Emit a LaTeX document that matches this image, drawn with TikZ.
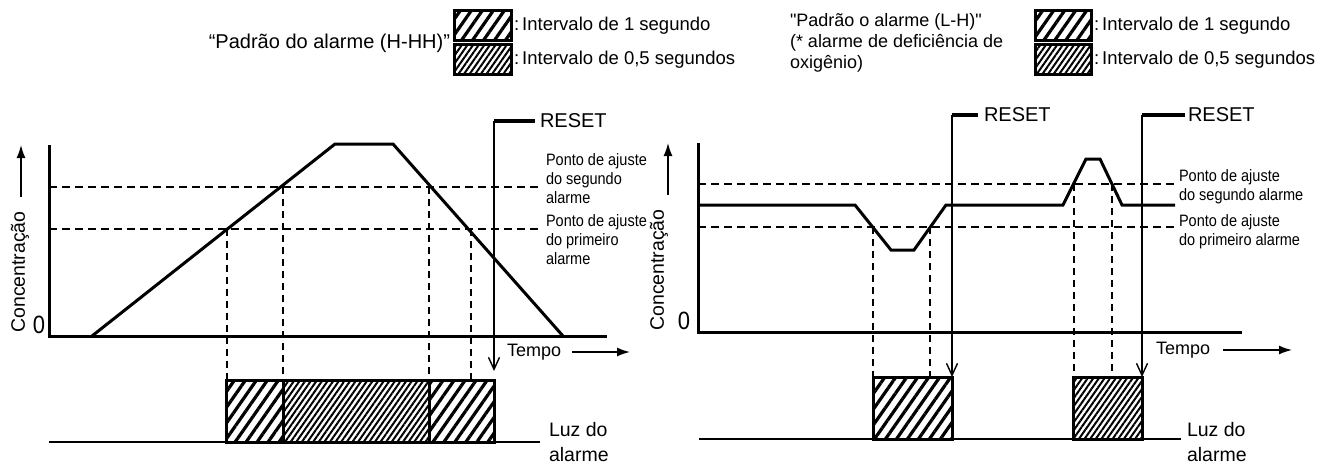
\documentclass[tikz,border=0pt]{standalone}
\usepackage{fontspec}
\setmainfont{Liberation Sans}
\newfontfamily\narrowsans{Liberation Sans}[FakeStretch=0.88]
\usetikzlibrary{patterns.meta,arrows.meta}
\begin{document}
\begin{tikzpicture}[x=1pt,y=-1pt,
  axisline/.style={line width=3pt},
  sigline/.style={line width=3pt, line join=miter},
  setdash/.style={line width=2pt, dash pattern=on 8pt off 5pt},
  vdash/.style={line width=1.4pt, dash pattern=on 7pt off 5pt},
  hatchone/.style={line width=3pt, pattern={Lines[angle=55,distance=9pt,line width=3.2pt]}},
  hatchhalf/.style={line width=3pt, pattern={Lines[angle=55,distance=4.6pt,line width=2pt]}},
  resetline/.style={line width=1.4pt, -{Straight Barb[length=12pt,width=11pt,line width=1.4pt]}},
  resetbar/.style={line width=3.5pt},
  lightline/.style={line width=2.5pt},
  labelarrow/.style={line width=1.5pt, -{Latex[length=13pt,width=9pt]}},
  txt/.style={inner sep=0pt, outer sep=0pt},
  titletxt/.style={txt, font=\fontsize{20}{23}\selectfont},
  legtxt/.style={txt, font=\fontsize{18.5}{21}\selectfont, anchor=west},
  righttitle/.style={txt, font=\fontsize{18}{21}\selectfont, align=left, anchor=west},
  resettxt/.style={txt, font=\fontsize{20}{22}\selectfont, anchor=west},
  pontotxt/.style={txt, font=\narrowsans\fontsize{16.5}{19}\selectfont, align=left, anchor=west},
  conctxt/.style={txt, font=\fontsize{19.5}{22}\selectfont, rotate=90},
  zerotxt/.style={txt, font=\narrowsans\fontsize{25}{26}\selectfont},
  tempotxt/.style={txt, font=\fontsize{18}{20}\selectfont, anchor=west},
  luztxt/.style={txt, font=\fontsize{19.5}{25}\selectfont, align=left, anchor=west}
]
\useasboundingbox (0,0) rectangle (1343,464);

% ---------------- legends ----------------
\node[titletxt, anchor=east] (ttlL) at (450,43) {“Padrão do alarme (H-HH)”};
\draw[hatchone]  (454,10) rectangle (511,40);
\draw[hatchhalf] (454,44) rectangle (511,74);
\node[legtxt] (legL1) at (514,26) {:\,Intervalo de 1 segundo};
\node[legtxt] (legL2) at (514,60) {:\,Intervalo de 0,5 segundos};

\node[righttitle] (ttlR) at (790,43) {\textquotedbl Padrão o alarme (L-H)\textquotedbl\\(* alarme de deficiência de\\oxigênio)};
\draw[hatchone]  (1035,10) rectangle (1091,40);
\draw[hatchhalf] (1035,44) rectangle (1091,74);
\node[legtxt] (legR1) at (1094,26) {:\,Intervalo de 1 segundo};
\node[legtxt] (legR2) at (1094,60) {:\,Intervalo de 0,5 segundos};

% ---------------- left chart ----------------
\coordinate (LaxTop) at (49,145);
\coordinate (Lorig) at (49,336);
\coordinate (LaxEnd) at (607,336);
\draw[axisline] (LaxTop) -- (Lorig) -- (LaxEnd);
\node[conctxt] (concL) at (20,272) {Concentração};
\coordinate (cLa) at (21,197);
\coordinate (cLb) at (21,145);
\draw[labelarrow] (cLa) -- (cLb);
\node[zerotxt] (zeroL) at (39,325) {0};

\draw[setdash] (49,187) -- (540,187);
\draw[setdash] (49,229) -- (540,229);
\draw[sigline] (92,336) -- (335,144) -- (393,144) -- (563,336);

\draw[vdash] (227,229) -- (227,380);
\draw[vdash] (283,187) -- (283,380);
\draw[vdash] (429,187) -- (429,380);
\draw[vdash] (471,229) -- (471,380);

\node[pontotxt] (p2L) at (546,179) {Ponto de ajuste\\do segundo\\alarme};
\node[pontotxt] (p1L) at (546,240) {Ponto de ajuste\\do primeiro\\alarme};

\coordinate (rLtop) at (494,121);
\coordinate (rLbar) at (535,121);
\coordinate (rLend) at (494,371);
\draw[resetline] (rLtop) -- (rLend);
\draw[resetbar] (rLtop) -- (rLbar);
\node[resettxt] (resetL) at (540,121) {RESET};

\node[tempotxt] (tempoL) at (507,352) {Tempo};
\coordinate (tLa) at (572,352);
\coordinate (tLb) at (630,352);
\draw[labelarrow] (tLa) -- (tLb);

\draw[lightline] (49,442) -- (540,442);
\draw[hatchone]  (226,380) rectangle (283,442);
\draw[hatchhalf] (283,380) rectangle (429,442);
\draw[hatchone]  (429,380) rectangle (494,442);
\node[luztxt] (luzL) at (549,442) {Luz do\\alarme};

% ---------------- right chart ----------------
\coordinate (RaxTop) at (698,143);
\coordinate (Rorig) at (698,332);
\coordinate (RaxEnd) at (1242,332);
\draw[axisline] (RaxTop) -- (Rorig) -- (RaxEnd);
\node[conctxt] (concR) at (659,270) {Concentração};
\coordinate (cRa) at (668,195);
\coordinate (cRb) at (668,143);
\draw[labelarrow] (cRa) -- (cRb);
\node[zerotxt] (zeroR) at (684,321) {0};

\draw[setdash] (698,184) -- (1175,184);
\draw[setdash] (698,227) -- (1175,227);
\draw[sigline] (698,205) -- (855,205) -- (891,250) -- (914,250) -- (946,205)
   -- (1063,205) -- (1086,159) -- (1100,159) -- (1122,205) -- (1175,205);

\draw[vdash] (873,227) -- (873,377);
\draw[vdash] (930,227) -- (930,377);
\draw[vdash] (1074,184) -- (1074,377);
\draw[vdash] (1112,184) -- (1112,377);

\node[pontotxt] (p2R) at (1179,187) {Ponto de ajuste\\do segundo alarme};
\node[pontotxt] (p1R) at (1179,232) {Ponto de ajuste\\do primeiro alarme};

\coordinate (rR1top) at (952,115);
\coordinate (rR1bar) at (978,115);
\coordinate (rR1end) at (952,377);
\draw[resetline] (rR1top) -- (rR1end);
\draw[resetbar] (rR1top) -- (rR1bar);
\node[resettxt] (resetR1) at (984,115) {RESET};

\coordinate (rR2top) at (1142,115);
\coordinate (rR2bar) at (1185,115);
\coordinate (rR2end) at (1142,377);
\draw[resetline] (rR2top) -- (rR2end);
\draw[resetbar] (rR2top) -- (rR2bar);
\node[resettxt] (resetR2) at (1188,115) {RESET};

\node[tempotxt] (tempoR) at (1156,350) {Tempo};
\coordinate (tRa) at (1223,350);
\coordinate (tRb) at (1292,350);
\draw[labelarrow] (tRa) -- (tRb);

\draw[lightline] (699,439) -- (1181,439);
\draw[hatchone]  (873,377) rectangle (952,439);
\draw[hatchhalf] (1073,377) rectangle (1142,439);
\node[luztxt] (luzR) at (1187,442) {Luz do\\alarme};
\end{tikzpicture}
\end{document}
